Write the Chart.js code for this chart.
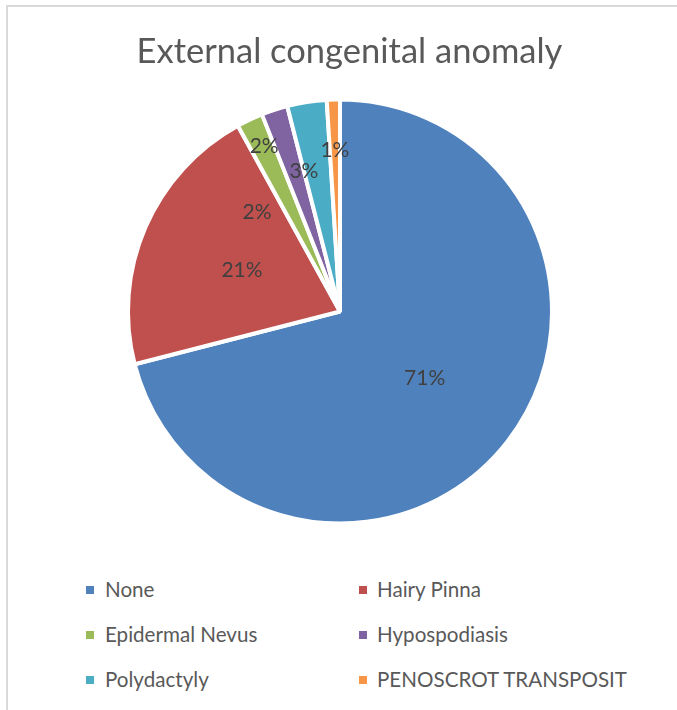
<!DOCTYPE html>
<html>
<head>
<meta charset="utf-8">
<title>External congenital anomaly</title>
<script src="https://cdn.jsdelivr.net/npm/chart.js@4.4.1/dist/chart.umd.min.js"></script>
<style>
  html, body { margin: 0; padding: 0; background: #fff; width: 677px; height: 710px; overflow: hidden; font-family: Lato, "Open Sans", sans-serif; }
  #frame { position: absolute; left: 6px; top: 5px; width: 720px; height: 740px; border-top: 2px solid #d9d9d9; border-left: 2px solid #d9d9d9; box-sizing: border-box; }
  #pie { position: absolute; left: 0; top: 0; }
  .swatch { position: absolute; width: 8px; height: 8px; }
  .entry { position: absolute; height: 24px; line-height: 24px; font-size: 20.6px; color: #595959; white-space: nowrap; }
</style>
</head>
<body>
<div id="frame"></div>
<canvas id="pie" width="677" height="560"></canvas>
<div id="legend"></div>
<script>
// Categories and their shares (percent of cases)
const categories = ['None', 'Hairy Pinna', 'Epidermal Nevus', 'Hypospodiasis', 'Polydactyly', 'PENOSCROT TRANSPOSIT'];
const percentages = [71, 21, 2, 2, 3, 1];
const sliceColors = ['#4F81BD', '#C0504D', '#9BBB59', '#8064A2', '#4BACC6', '#F79646'];
const chartTitle = 'External congenital anomaly';

// Where each percentage label sits: fraction of the radius and an angular nudge (degrees, clockwise)
const labelPlacement = [
  { r: 0.51, da: 0 },
  { r: 0.507, da: -0.4 },
  { r: 0.871, da: 0.7 },
  { r: 0.617, da: -21.8 },
  { r: 0.695, da: -5.3 },
  { r: 0.77, da: 0 }
];

// Heading drawn on the canvas, centred over the whole figure
const headingPlugin = {
  id: 'heading',
  afterDraw(chart, args, opts) {
    const ctx = chart.ctx;
    ctx.save();
    ctx.font = opts.font;
    ctx.fillStyle = opts.color;
    ctx.textAlign = 'center';
    ctx.textBaseline = 'alphabetic';
    ctx.fillText(opts.text, opts.x, opts.baseline);
    ctx.restore();
  }
};

// Percentage labels placed from each arc's own geometry
const sliceLabelPlugin = {
  id: 'sliceLabels',
  afterDatasetsDraw(chart, args, opts) {
    const ctx = chart.ctx;
    const meta = chart.getDatasetMeta(0);
    const values = chart.data.datasets[0].data;
    const total = values.reduce((a, b) => a + b, 0);
    ctx.save();
    ctx.font = opts.font;
    ctx.fillStyle = opts.color;
    ctx.textAlign = 'center';
    ctx.textBaseline = 'alphabetic';
    meta.data.forEach((arc, i) => {
      const p = arc.getProps(['x', 'y', 'startAngle', 'endAngle', 'outerRadius'], true);
      const place = opts.placement[i];
      const a = (p.startAngle + p.endAngle) / 2 + place.da * Math.PI / 180;
      const rr = (p.outerRadius - 2) * place.r;
      const cx = p.x + Math.cos(a) * rr;
      const cy = p.y + Math.sin(a) * rr;
      const txt = Math.round(values[i] / total * 100) + '%';
      ctx.fillText(txt, cx, cy + opts.capHalf);
    });
    ctx.restore();
  }
};

const chart = new Chart(document.getElementById('pie'), {
  type: 'pie',
  data: {
    labels: categories,
    datasets: [{
      data: percentages,
      backgroundColor: sliceColors,
      borderColor: '#ffffff',
      borderWidth: 4,
      hoverOffset: 0,
      offset: 0
    }]
  },
  options: {
    responsive: false,
    animation: false,
    devicePixelRatio: 1,
    layout: { padding: { left: 126, right: 123, top: 97.5, bottom: 34.5 } },
    events: [],
    plugins: {
      legend: { display: false },
      title: { display: false },
      tooltip: { enabled: false },
      heading: { text: chartTitle, font: '34.5px Lato', color: '#595959', x: 349.5, baseline: 63 },
      sliceLabels: { placement: labelPlacement, font: '21px Lato', color: '#404040', capHalf: 7.5 }
    }
  },
  plugins: [headingPlugin, sliceLabelPlugin]
});

// Two-column legend built from the chart's own legend items
const legendItems = Chart.overrides.pie.plugins.legend.labels.generateLabels(chart);
const legendBox = document.getElementById('legend');
const swatchX = [86, 359];
const textX = [105, 377];
const rowY = [590, 635, 680];
legendItems.forEach((item, i) => {
  const col = i % 2, row = Math.floor(i / 2);
  const sw = document.createElement('div');
  sw.className = 'swatch';
  sw.style.left = swatchX[col] + 'px';
  sw.style.top = (rowY[row] - 4) + 'px';
  sw.style.background = item.fillStyle;
  legendBox.appendChild(sw);
  const tx = document.createElement('div');
  tx.className = 'entry';
  tx.style.left = textX[col] + 'px';
  tx.style.top = (rowY[row] - 13) + 'px';
  tx.textContent = item.text;
  legendBox.appendChild(tx);
});
</script>
</body>
</html>
